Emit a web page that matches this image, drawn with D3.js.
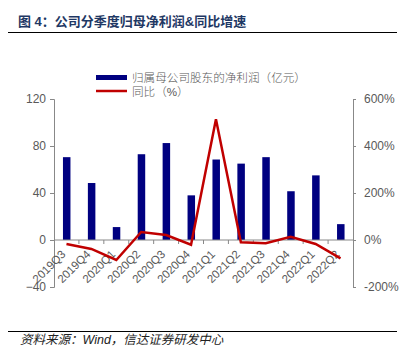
<!DOCTYPE html>
<html><head><meta charset="utf-8">
<script src="https://cdn.jsdelivr.net/npm/d3@7"></script>
<style>
body{margin:0;background:#fff;}
svg text{font-family:"Liberation Sans",Arial,"Noto Sans CJK SC",sans-serif;}
</style></head><body>
<script>
const categories = ["2019Q3","2019Q4","2020Q1","2020Q2","2020Q3","2020Q4","2021Q1","2021Q2","2021Q3","2021Q4","2022Q1","2022Q2"];
const profit = [70.5, 48.5, 11, 73, 82.5, 38, 68.5, 65, 70.5, 41.5, 55, 13.5];
const yoy = [-17, -38, -85, 34, 21, -20, 514, -10, -14, 14, -17, -78];
const leftTicks = [-40, 0, 40, 80, 120];
const rightTicks = [-200, 0, 200, 400, 600];
const title = "图 4：公司分季度归母净利润&同比增速";
const source = "资料来源：Wind，信达证券研发中心";
const legendLabels = ["归属母公司股东的净利润（亿元）", "同比（%）"];

const W = 419, H = 359;
const svg = d3.select("body").append("svg").attr("width", W).attr("height", H);
const m = {l: 54, r: 353, t: 99, b: 287};

const x = d3.scaleBand().domain(categories).range([m.l, m.r]);
const yL = d3.scaleLinear().domain([-40, 120]).range([m.b, m.t]);
const yR = d3.scaleLinear().domain([-200, 600]).range([m.b, m.t]);

// title
svg.append("text").attr("x", 18).attr("y", 26).attr("fill", "#1f3864")
  .attr("font-size", 13).attr("font-weight", "bold").attr("font-family", "'Noto Sans CJK SC',sans-serif")
  .text(title);
svg.append("line").attr("x1", 8).attr("x2", 397).attr("y1", 32.5).attr("y2", 32.5).attr("stroke", "#000").attr("stroke-width", 1);

// bars
svg.append("g").selectAll("rect").data(profit).join("rect")
  .attr("x", (d, i) => x(categories[i]) + x.bandwidth() / 2 - 3.5)
  .attr("width", 7.5)
  .attr("y", d => yL(Math.max(0, d)))
  .attr("height", d => Math.abs(yL(d) - yL(0)))
  .attr("fill", "#000080");

// left axis
const axL = svg.append("g").attr("transform", `translate(${m.l},0)`)
  .call(d3.axisLeft(yL).tickValues(leftTicks).tickSize(4).tickPadding(4));
// right axis
const axR = svg.append("g").attr("transform", `translate(${m.r},0)`)
  .call(d3.axisRight(yR).tickValues(rightTicks).tickSize(3).tickPadding(8).tickFormat(d => d + "%"));
[axL, axR].forEach(a => {
  a.select(".domain").attr("stroke", "#888");
  a.selectAll(".tick line").attr("stroke", "#888");
  a.selectAll(".tick text").attr("fill", "#595959").attr("font-size", 12)
    .attr("font-family", "'Liberation Sans',Arial,sans-serif");
});

// x axis at zero
const axX = svg.append("g").attr("transform", `translate(0,${yL(0)})`);
axX.append("line").attr("x1", m.l).attr("x2", m.r).attr("stroke", "#888");
axX.selectAll(".tk").data(categories.slice(1)).join("line")
  .attr("x1", d => x(d)).attr("x2", d => x(d)).attr("y1", 0).attr("y2", 4).attr("stroke", "#888");
axX.selectAll("text").data(categories).join("text")
  .attr("transform", d => `translate(${x(d) + x.bandwidth() / 2 - 3},${12}) rotate(-45)`)
  .attr("text-anchor", "end").attr("dy", "0.35em")
  .attr("fill", "#595959").attr("font-size", 11.5)
  .attr("font-family", "'Liberation Sans',Arial,sans-serif")
  .text(d => d);

// line
const line = d3.line().x((d, i) => x(categories[i]) + x.bandwidth() / 2).y(d => yR(d));
svg.append("path").datum(yoy).attr("d", line).attr("fill", "none")
  .attr("stroke", "#c00000").attr("stroke-width", 2.5).attr("stroke-linejoin", "miter");

// legend
const lg = svg.append("g");
lg.append("rect").attr("x", 96).attr("y", 75).attr("width", 31).attr("height", 5).attr("fill", "#000080");
lg.append("line").attr("x1", 96).attr("x2", 127).attr("y1", 91).attr("y2", 91).attr("stroke", "#c00000").attr("stroke-width", 2.5);
lg.selectAll("text").data(legendLabels).join("text")
  .attr("x", 132).attr("y", (d, i) => 78 + i * 14).attr("dy", "0.35em")
  .attr("fill", "#595959").attr("font-size", 11.6)
  .attr("font-family", "'Noto Sans CJK SC',sans-serif").attr("font-weight", 300)
  .text(d => d);

// footer
svg.append("line").attr("x1", 8).attr("x2", 397).attr("y1", 331.5).attr("y2", 331.5).attr("stroke", "#000").attr("stroke-width", 1);
svg.append("text").attr("x", 20).attr("y", 344).attr("font-size", 12.5).attr("font-style", "italic")
  .attr("fill", "#222").attr("font-family", "'Noto Sans CJK SC',sans-serif").text(source);
</script>
</body></html>
